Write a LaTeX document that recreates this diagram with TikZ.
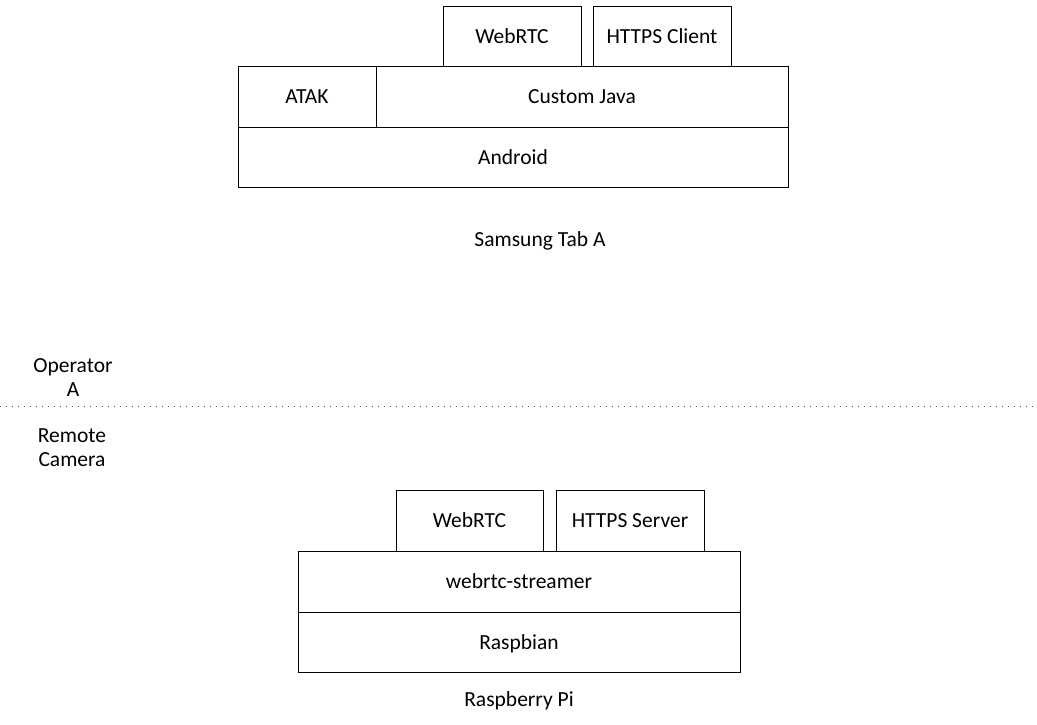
\documentclass[tikz,border=0pt]{standalone}
\usepackage{fontspec}
\setmainfont{Carlito}
\usetikzlibrary{positioning}

\begin{document}
\begin{tikzpicture}[
    x=1pt, y=-1pt,
    layer/.style={draw, line width=1pt, anchor=north west, inner sep=0pt, outer sep=0pt, font=\fontsize{21.5}{25}\selectfont, text height=16pt, text depth=2pt, align=center},
    caption/.style={font=\fontsize{21.5}{24}\selectfont, align=center, inner sep=0pt},
]
    \useasboundingbox (0,0) rectangle (1037,724);

    % Samsung Tab A stack
    \node[layer, minimum width=138pt, minimum height=60pt] (webrtcA) at (443,6) {WebRTC};
    \node[layer, minimum width=138pt, minimum height=60pt] (httpsA) at (593,6) {HTTPS Client};
    \node[layer, minimum width=138pt, minimum height=61pt] (atak) at (238,66) {ATAK};
    \node[layer, minimum width=412pt, minimum height=61pt] (java) at (376,66) {Custom Java};
    \node[layer, minimum width=550pt, minimum height=60pt] (android) at (238,127) {Android};
    \node[caption] (tab) at (540,241) {Samsung Tab A};

    % divider
    \node[caption] (opA) at (73,378) {Operator\\A};
    \coordinate (divL) at (0,406);
    \coordinate (divR) at (1037,406);
    \draw[line width=1pt, black!70, dash pattern=on 1pt off 5pt] (divL) -- (divR);
    \node[caption] (remote) at (72,448) {Remote\\Camera};

    % Raspberry Pi stack
    \node[layer, minimum width=147pt, minimum height=61pt] (webrtcB) at (396,490) {WebRTC};
    \node[layer, minimum width=148pt, minimum height=61pt] (httpsB) at (556,490) {HTTPS Server};
    \node[layer, minimum width=442pt, minimum height=61pt] (streamer) at (298,551) {webrtc-streamer};
    \node[layer, minimum width=442pt, minimum height=60pt] (raspbian) at (298,612) {Raspbian};
    \node[caption] (pi) at (519,701) {Raspberry Pi};
\end{tikzpicture}
\end{document}
